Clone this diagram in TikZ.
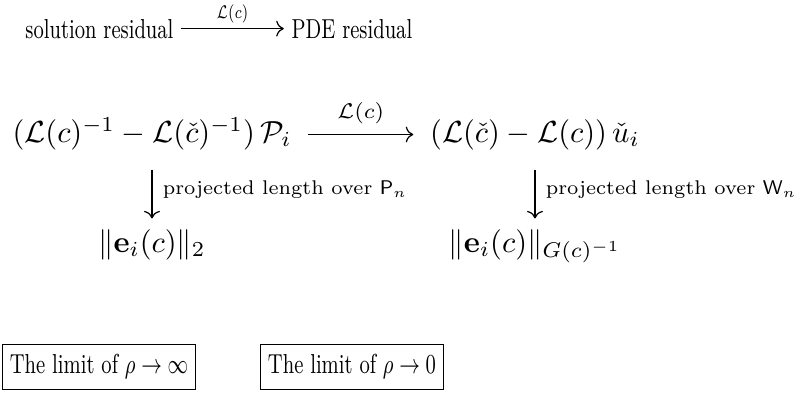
\documentclass[tikz,border=0pt]{standalone}
\usepackage{fix-cm}
\usepackage{amsmath}
\usetikzlibrary{arrows.meta}

\begin{document}
\begin{tikzpicture}[x=1cm,y=1cm,
cell/.style={text height=7.5pt,text depth=2.5pt},
squeezed/.style={xscale=.73,font=\fontsize{9}{11}\selectfont},
arr/.style={-{Computer Modern Rightarrow},line width=.4pt},
lab/.style={font=\fontsize{6.5}{8}\selectfont},
limitbox/.style={draw,line width=.5pt,squeezed}]

\useasboundingbox(0,0)rectangle(9.16,-4.54);
\node[squeezed] (sol) at(1.146,-.33){solution residual};
\node[squeezed] (pde) at(4.055,-.33){PDE residual};
\draw[arr](sol)--node[above,squeezed,inner sep=1.5pt,font=\fontsize{6}{7}\selectfont]{$\mathcal{L}(c)$}(pde);

\node[cell] (lhs) at(1.751,-1.55){$(\mathcal{L}(c)^{-1}-\mathcal{L}(\check c)^{-1})\,\mathcal{P}_i$};
\node[cell] (rhs) at(6.164,-1.55){$(\mathcal{L}(\check c)-\mathcal{L}(c))\,\check u_i$};
\draw[arr,shorten <=2pt,shorten >=2pt](lhs)--node[above,font=\scriptsize]{$\mathcal{L}(c)$}(rhs);

\node[cell] (errp) at(1.751,-2.817){$\|\mathbf{e}_i(c)\|_2$};
\node[cell] (errw) at(6.164,-2.817){$\|\mathbf{e}_i(c)\|_{G(c)^{-1}}$};
\draw[arr,shorten <=3pt](lhs)--node[right,lab]{projected length over $\mathsf{P}_n$}(errp);
\draw[arr,shorten <=3pt](rhs)--node[right,lab]{projected length over $\mathsf{W}_n$}(errw);

\node[limitbox] (inf) at(1.141,-4.228){The limit of $\rho\to\infty$};
\node[limitbox] (zero) at(4.055,-4.228){The limit of $\rho\to0$};
\end{tikzpicture}
\end{document}
